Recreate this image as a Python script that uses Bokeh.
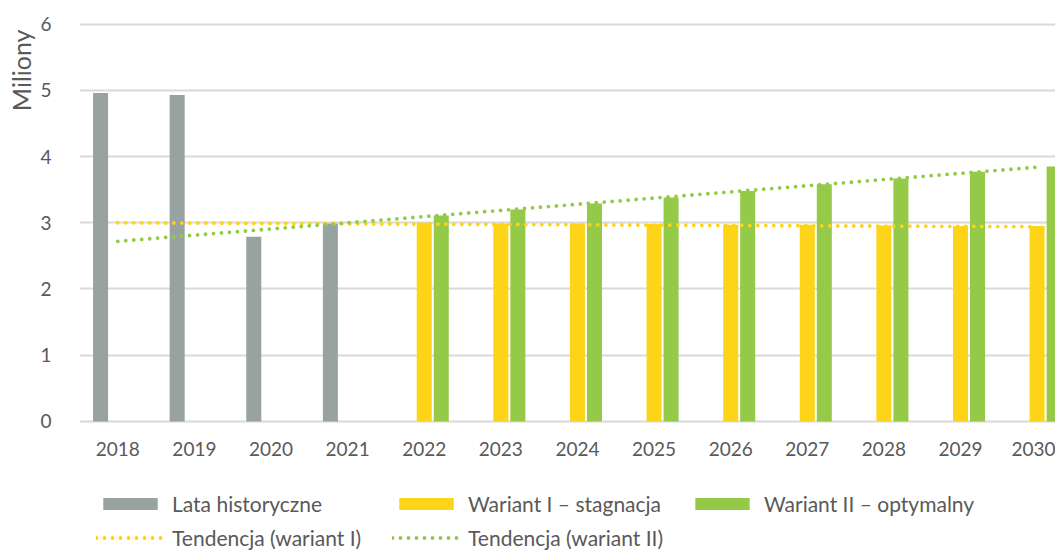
from bokeh.plotting import figure
from bokeh.models import (ColumnDataSource, Range1d, FixedTicker, Legend, LegendItem, Title)
from bokeh.transform import dodge
from bokeh.embed import file_html
from bokeh.resources import INLINE

# ---- data ----
hist_years = [2018, 2019, 2020, 2021]
hist_values = [4.96, 4.93, 2.79, 2.99]

proj_years = [2022, 2023, 2024, 2025, 2026, 2027, 2028, 2029, 2030]
variant1 = [3.00, 2.99, 2.99, 2.98, 2.97, 2.97, 2.96, 2.95, 2.95]
variant2 = [3.11, 3.20, 3.29, 3.38, 3.48, 3.58, 3.67, 3.77, 3.85]

trend_years = [2018, 2030]
trend1 = [3.00, 2.94]
trend2 = [2.72, 3.84]

all_years = list(range(2018, 2031))
y_ticks = [0, 1, 2, 3, 4, 5, 6]

# ---- style ----
GREY = "#98a3a1"
YELLOW = "#fdd417"
GREEN = "#95c948"
TEXT = "#595959"
FONT = "Lato"

p = figure(width=1055, height=550, output_backend="svg", toolbar_location=None,
           x_range=Range1d(2017.5, 2030.24), y_range=Range1d(-1.95, 6.04),
           min_border_left=79, min_border_right=0, min_border_top=21, min_border_bottom=0)
p.outline_line_color = None
p.background_fill_color = "white"
p.border_fill_color = "white"

src_h = ColumnDataSource(dict(x=hist_years, top=hist_values))
src_p = ColumnDataSource(dict(x=proj_years, v1=variant1, v2=variant2))
src_t = ColumnDataSource(dict(x=trend_years, t1=trend1, t2=trend2))

bw = 0.196
r_h = p.vbar(x=dodge("x", -0.225, range=p.x_range), top="top", width=bw, bottom=0,
             source=src_h, fill_color=GREY, line_color=None)
r_1 = p.vbar(x=dodge("x", 0.0, range=p.x_range), top="v1", width=bw, bottom=0,
             source=src_p, fill_color=YELLOW, line_color=None)
r_2 = p.vbar(x=dodge("x", 0.222, range=p.x_range), top="v2", width=bw, bottom=0,
             source=src_p, fill_color=GREEN, line_color=None)

r_t1 = p.line("x", "t1", source=src_t, line_color=YELLOW, line_width=3.8,
              line_dash="0 8", line_cap="round")
r_t2 = p.line("x", "t2", source=src_t, line_color=GREEN, line_width=3.8,
              line_dash="0 8", line_cap="round")

# axes
p.xaxis.ticker = FixedTicker(ticks=all_years)
p.xaxis.major_label_overrides = {y: str(y) for y in all_years}
p.xaxis.fixed_location = 0
p.yaxis.ticker = FixedTicker(ticks=y_ticks)
for ax in (p.xaxis[0], p.yaxis[0]):
    ax.axis_line_color = None
    ax.major_tick_line_color = None
    ax.minor_tick_line_color = None
    ax.major_label_text_font = FONT
    ax.major_label_text_font_size = "19px"
    ax.major_label_text_color = TEXT
p.xaxis.major_label_standoff = 15
p.yaxis.major_label_standoff = 22

p.xgrid.grid_line_color = None
p.ygrid.grid_line_color = "#d9d9d9"
p.ygrid.grid_line_width = 2

t = Title(text="Miliony", align="right", text_font=FONT, text_font_size="25px",
          text_color=TEXT, text_font_style="normal", offset=8, standoff=3)
p.add_layout(t, "left")

legend = Legend(items=[
    LegendItem(label="Lata historyczne", renderers=[r_h]),
    LegendItem(label="Wariant I – stagnacja", renderers=[r_1]),
    LegendItem(label="Wariant II – optymalny", renderers=[r_2]),
    LegendItem(label="Tendencja (wariant I)", renderers=[r_t1]),
    LegendItem(label="Tendencja (wariant II)", renderers=[r_t2]),
], orientation="horizontal", ncols=3, location=(17, -4))
legend.glyph_width = 68
legend.glyph_height = 15
legend.label_standoff = 8
legend.label_width = 220
legend.label_height = 34
legend.spacing = 0
legend.padding = 0
legend.margin = 0
legend.border_line_color = None
legend.background_fill_alpha = 0
legend.label_text_font = FONT
legend.label_text_font_size = "21px"
legend.label_text_color = TEXT
p.add_layout(legend, "center")

open("out.html", "w").write(file_html(p, INLINE))
